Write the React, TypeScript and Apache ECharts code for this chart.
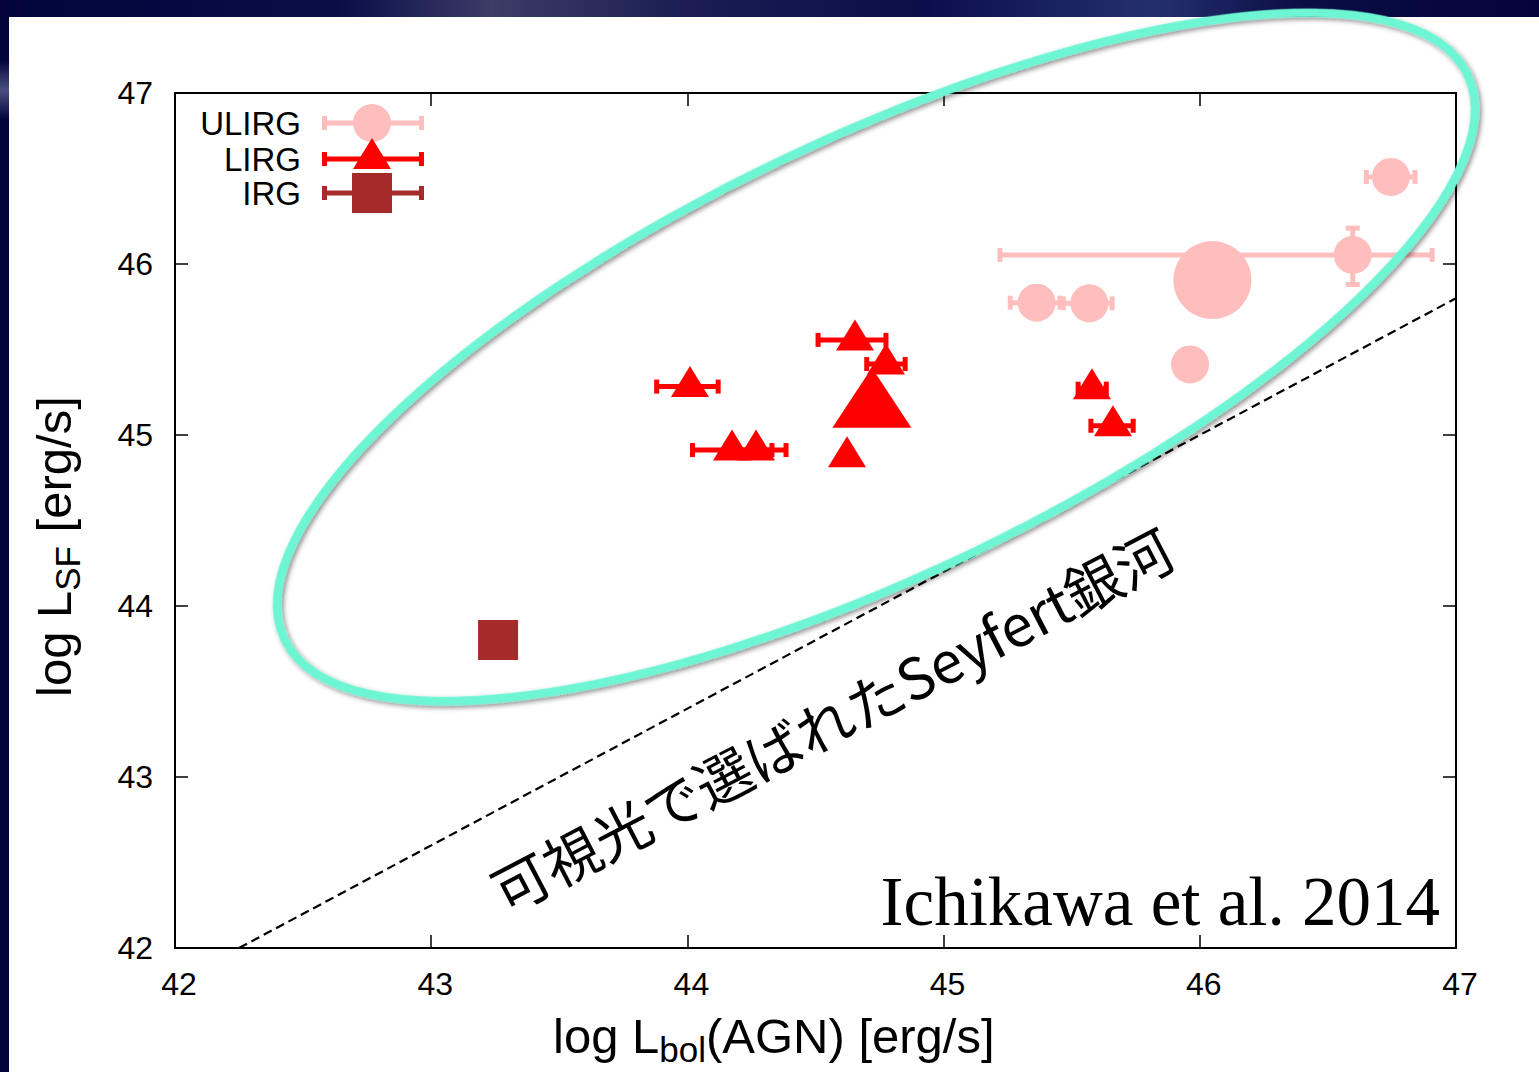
import React, { useEffect, useRef } from "react";
import * as echarts from "echarts";

// Axis ranges and tick values (log luminosity, erg/s)
const axisMin = 42;
const axisMax = 47;
const tickStep = 1;

// ULIRG sample: log Lbol(AGN), log LSF and their error ranges
const ulirgX = [46.746, 46.597, 45.363, 45.569, 45.962];
const ulirgY = [46.509, 46.053, 45.774, 45.77, 45.413];
const ulirgXLow = [46.65, 45.22, 45.26, 45.467, 45.962];
const ulirgXHigh = [46.84, 46.907, 45.454, 45.658, 45.962];
const ulirgYLow = [46.509, 45.88, 45.774, 45.77, 45.413];
const ulirgYHigh = [46.509, 46.21, 45.774, 45.77, 45.413];
// ULIRG stacked value (large marker)
const ulirgStackX = [46.049];
const ulirgStackY = [45.906];

// LIRG sample
const lirgX = [44.01, 44.174, 44.268, 44.654, 44.775, 44.623, 45.579, 45.661];
const lirgY = [45.283, 44.912, 44.912, 45.556, 45.415, 44.873, 45.271, 45.054];
const lirgXLow = [43.88, 44.02, 44.15, 44.51, 44.7, 44.623, 45.525, 45.575];
const lirgXHigh = [44.12, 44.33, 44.385, 44.775, 44.85, 44.623, 45.635, 45.74];
// LIRG stacked value (large marker)
const lirgStackX = [44.72];
const lirgStackY = [45.16];

// IRG sample
const irgX = [43.261];
const irgY = [43.801];

// Optically selected Seyfert relation (dashed line end points)
const seyfertX = [42.25, 47];
const seyfertY = [42, 45.8];

const PINK = "#FFBEBE";
const RED = "#FF0000";
const BROWN = "#A52A2A";
const SANS = "'Liberation Sans', Arial, Helvetica, sans-serif";

type Bar = number[];

function buildBars(
  xs: number[],
  ys: number[],
  xl: number[],
  xh: number[],
  yl?: number[],
  yh?: number[]
): Bar[] {
  return xs.map((x, i) => [
    x,
    ys[i],
    xl[i],
    xh[i],
    yl ? yl[i] : ys[i],
    yh ? yh[i] : ys[i],
  ]);
}

function errorBarSeries(name: string, data: Bar[], color: string) {
  const lineW = 5;
  const capLen = 14;
  const capW = 5;
  return {
    type: "custom",
    name,
    data,
    clip: false,
    silent: true,
    z: 3,
    encode: { x: 0, y: 1 },
    renderItem: (_params: any, api: any) => {
      const x = api.value(0);
      const y = api.value(1);
      const xl = api.value(2);
      const xh = api.value(3);
      const yl = api.value(4);
      const yh = api.value(5);
      const children: any[] = [];
      const fill = { fill: color };
      if (xh - xl > 1e-6) {
        const a = api.coord([xl, y]);
        const b = api.coord([xh, y]);
        children.push({
          type: "line",
          shape: { x1: a[0], y1: a[1], x2: b[0], y2: b[1] },
          style: { stroke: color, lineWidth: lineW },
        });
        children.push({
          type: "rect",
          shape: { x: a[0] - capW / 2, y: a[1] - capLen / 2, width: capW, height: capLen },
          style: fill,
        });
        children.push({
          type: "rect",
          shape: { x: b[0] - capW / 2, y: b[1] - capLen / 2, width: capW, height: capLen },
          style: fill,
        });
      }
      if (yh - yl > 1e-6) {
        const a = api.coord([x, yl]);
        const b = api.coord([x, yh]);
        children.push({
          type: "line",
          shape: { x1: a[0], y1: a[1], x2: b[0], y2: b[1] },
          style: { stroke: color, lineWidth: lineW },
        });
        children.push({
          type: "rect",
          shape: { x: a[0] - capLen / 2, y: a[1] - capW / 2, width: capLen, height: capW },
          style: fill,
        });
        children.push({
          type: "rect",
          shape: { x: b[0] - capLen / 2, y: b[1] - capW / 2, width: capLen, height: capW },
          style: fill,
        });
      }
      return { type: "group", children };
    },
  };
}

function zip(xs: number[], ys: number[]) {
  return xs.map((x, i) => [x, ys[i]]);
}

const baseAxis = {
  type: "value",
  min: axisMin,
  max: axisMax,
  interval: tickStep,
  splitLine: { show: false },
  axisLine: { show: true, onZero: false, lineStyle: { color: "#000", width: 2 } },
  axisTick: { show: true, inside: true, length: 13, lineStyle: { color: "#000", width: 1.5 } },
};

// Legend rows: label, colour and key marker
const legendRows = [
  { name: "ULIRG", color: PINK, y: 123, marker: "circle" },
  { name: "LIRG", color: RED, y: 159, marker: "triangle" },
  { name: "IRG", color: BROWN, y: 193, marker: "square" },
];

function legendGraphics() {
  const out: any[] = [];
  const x1 = 322;
  const x2 = 424;
  const cx = 372;
  legendRows.forEach((r) => {
    out.push({
      type: "text",
      x: 301,
      y: r.y,
      z: 50,
      style: {
        text: r.name,
        fontSize: 33,
        lineHeight: 32,
        fontFamily: SANS,
        fill: "#000",
        textAlign: "right",
        textVerticalAlign: "middle",
        align: "right",
        verticalAlign: "middle",
      },
    });
    out.push({
      type: "line",
      z: 50,
      shape: { x1, y1: r.y, x2, y2: r.y },
      style: { stroke: r.color, lineWidth: 5 },
    });
    out.push({ type: "rect", z: 50, shape: { x: x1, y: r.y - 7, width: 5, height: 14 }, style: { fill: r.color } });
    out.push({ type: "rect", z: 50, shape: { x: x2 - 5, y: r.y - 7, width: 5, height: 14 }, style: { fill: r.color } });
    if (r.marker === "circle") {
      out.push({ type: "circle", z: 51, shape: { cx, cy: r.y, r: 19 }, style: { fill: r.color } });
    } else if (r.marker === "triangle") {
      out.push({
        type: "polygon",
        z: 52,
        shape: { points: [[cx - 19, r.y + 10], [cx + 19, r.y + 10], [cx, r.y - 21]] },
        style: { fill: r.color },
      });
    } else {
      out.push({ type: "rect", z: 53, shape: { x: cx - 20, y: r.y - 20, width: 40, height: 40 }, style: { fill: r.color } });
    }
  });
  return out;
}

function buildOption() {
  const mainRich = {
    m: { fontSize: 49, lineHeight: 49, fontFamily: SANS, fill: "#000", color: "#000", verticalAlign: "top" },
    s: {
      fontSize: 35,
      lineHeight: 35,
      fontFamily: SANS,
      fill: "#000",
      color: "#000",
      verticalAlign: "top",
      padding: [21, 0, 0, 0],
    },
  };

  return {
    animation: false,
    backgroundColor: "#02043a",
    grid: { left: 175, right: 83, top: 93, bottom: 124, containLabel: false },
    xAxis: [
      {
        ...baseAxis,
        position: "bottom",
        axisLabel: {
          show: true,
          color: "#000",
          fontSize: 32,
          fontFamily: SANS,
          margin: 20,
          padding: [0, 0, 0, 8],
        },
      },
      { ...baseAxis, position: "top", axisLabel: { show: false } },
    ],
    yAxis: [
      {
        ...baseAxis,
        position: "left",
        axisLabel: { show: true, color: "#000", fontSize: 32, fontFamily: SANS, margin: 22 },
      },
      { ...baseAxis, position: "right", axisLabel: { show: false } },
    ],
    graphic: [
      // white slide panel
      { type: "rect", z: -10, shape: { x: 9, y: 17, width: 1539 - 9, height: 1072 - 17 }, style: { fill: "#fff" } },
      // textured strip along the top edge
      {
        type: "rect",
        z: -10,
        shape: { x: 0, y: 0, width: 1539, height: 17 },
        style: {
          fill: new echarts.graphic.LinearGradient(0, 0, 1, 0, [
            { offset: 0, color: "#02043a" },
            { offset: 0.22, color: "#0a0d48" },
            { offset: 0.32, color: "#3a3d66" },
            { offset: 0.45, color: "#1a1c52" },
            { offset: 0.6, color: "#0b0e4a" },
            { offset: 0.75, color: "#24306e" },
            { offset: 0.85, color: "#0a0c44" },
            { offset: 1, color: "#02043a" },
          ]),
        },
      },
      {
        type: "rect",
        z: -10,
        shape: { x: 0, y: 60, width: 9, height: 60 },
        style: {
          fill: new echarts.graphic.LinearGradient(0, 0, 0, 1, [
            { offset: 0, color: "#02043a" },
            { offset: 0.5, color: "#4a4f80" },
            { offset: 1, color: "#02043a" },
          ]),
        },
      },
      // y-axis title
      {
        type: "text",
        x: 29,
        y: 697,
        rotation: Math.PI / 2,
        z: 20,
        style: {
          text: "{m|log L}{s|SF}{m| [erg/s]}",
          rich: mainRich,
          textAlign: "left",
          textVerticalAlign: "top",
          align: "left",
          verticalAlign: "top",
        },
      },
      // x-axis title
      {
        type: "text",
        x: 553,
        y: 1011,
        z: 20,
        style: {
          text: "{m|log L}{s|bol}{m|(AGN) [erg/s]}",
          rich: mainRich,
          textAlign: "left",
          textVerticalAlign: "top",
          align: "left",
          verticalAlign: "top",
        },
      },
      // Seyfert relation label
      {
        type: "text",
        x: 831,
        y: 718,
        rotation: (27.5 * Math.PI) / 180,
        z: 20,
        style: {
          text: "可視光で選ばれたSeyfert銀河",
          fontSize: 57,
          fontFamily: "'Noto Sans CJK JP', sans-serif",
          fill: "#000",
          textAlign: "center",
          textVerticalAlign: "middle",
          align: "center",
          verticalAlign: "middle",
        },
      },
      // reference
      {
        type: "text",
        x: 1440,
        y: 902,
        z: 20,
        style: {
          text: "Ichikawa et al. 2014",
          fontSize: 69,
          fontFamily: "'Liberation Serif', 'Times New Roman', serif",
          fill: "#000",
          textAlign: "right",
          textVerticalAlign: "middle",
          align: "right",
          verticalAlign: "middle",
        },
      },
      // hand-drawn highlight around the infrared galaxies
      {
        type: "ellipse",
        x: 876,
        y: 357,
        rotation: (25.5 * Math.PI) / 180,
        z: 100,
        silent: true,
        shape: { cx: 0, cy: 0, rx: 655, ry: 218 },
        style: {
          fill: "none",
          stroke: "#6EF5D4",
          lineWidth: 8.5,
          shadowBlur: 5,
          shadowOffsetX: 1,
          shadowOffsetY: 3,
          shadowColor: "rgba(0,0,0,0.45)",
        },
      },
      ...legendGraphics(),
    ],
    series: [
      {
        type: "line",
        name: "Seyfert",
        data: zip(seyfertX, seyfertY),
        symbol: "none",
        silent: true,
        z: 1,
        lineStyle: { color: "#000", width: 2.2, type: [9, 5] },
      },
      errorBarSeries("ULIRG error", buildBars(ulirgX, ulirgY, ulirgXLow, ulirgXHigh, ulirgYLow, ulirgYHigh), PINK),
      {
        type: "scatter",
        name: "ULIRG",
        data: zip(ulirgX, ulirgY),
        symbol: "circle",
        symbolSize: 38,
        silent: true,
        z: 4,
        itemStyle: { color: PINK, opacity: 1 },
      },
      {
        type: "scatter",
        name: "ULIRG stack",
        data: zip(ulirgStackX, ulirgStackY),
        symbol: "circle",
        symbolSize: 78,
        silent: true,
        z: 4,
        itemStyle: { color: PINK, opacity: 1 },
      },
      errorBarSeries("LIRG error", buildBars(lirgX, lirgY, lirgXLow, lirgXHigh), RED),
      {
        type: "scatter",
        name: "LIRG",
        data: zip(lirgX, lirgY),
        symbol: "triangle",
        symbolSize: [38, 31],
        symbolOffset: [0, -5],
        silent: true,
        z: 5,
        itemStyle: { color: RED, opacity: 1 },
      },
      {
        type: "scatter",
        name: "LIRG stack",
        data: zip(lirgStackX, lirgStackY),
        symbol: "triangle",
        symbolSize: [79, 60],
        symbolOffset: [0, -10],
        silent: true,
        z: 5,
        itemStyle: { color: RED, opacity: 1 },
      },
      {
        type: "scatter",
        name: "IRG",
        data: zip(irgX, irgY),
        symbol: "rect",
        symbolSize: 40,
        silent: true,
        z: 6,
        itemStyle: { color: BROWN, opacity: 1 },
      },
    ],
  };
}

export default function App() {
  const ref = useRef<HTMLDivElement>(null);
  useEffect(() => {
    document.body.style.margin = "0";
    const el = ref.current;
    if (!el) return;
    const chart = echarts.init(el, null, { renderer: "svg" });
    chart.setOption(buildOption() as any);
    return () => chart.dispose();
  }, []);
  return <div ref={ref} style={{ width: 1539, height: 1072 }} />;
}
